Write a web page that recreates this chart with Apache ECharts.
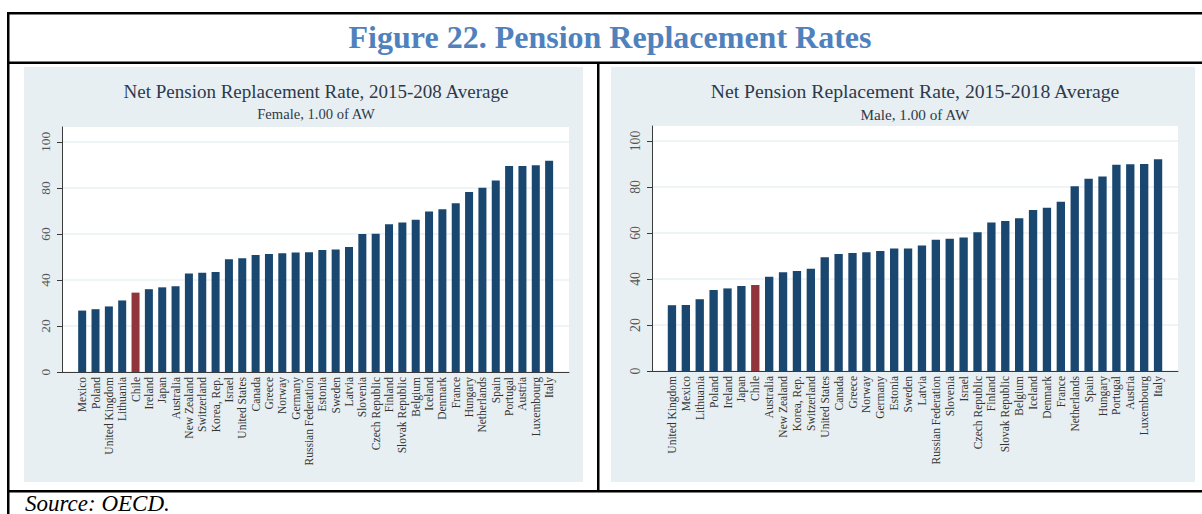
<!DOCTYPE html>
<html>
<head>
<meta charset="utf-8">
<script src="https://cdn.jsdelivr.net/npm/echarts@6/dist/echarts.min.js"></script>
<style>
html,body{margin:0;padding:0;background:#fff;}
#chart{width:1202px;height:514px;}
</style>
</head>
<body>
<div id="chart"></div>
<script>
// ---- data ----
const leftCategories = ["Mexico","Poland","United Kingdom","Lithuania","Chile","Ireland","Japan","Australia","New Zealand","Switzerland","Korea, Rep.","Israel","United States","Canada","Greece","Norway","Germany","Russian Federation","Estonia","Sweden","Latvia","Slovenia","Czech Republic","Finland","Slovak Republic","Belgium","Iceland","Denmark","France","Hungary","Netherlands","Spain","Portugal","Austria","Luxembourg","Italy"];
const leftValues = [26.7,27.3,28.5,31.1,34.5,36.0,36.8,37.3,42.8,43.1,43.5,49.0,49.4,50.9,51.3,51.6,52.0,52.1,53.0,53.3,54.3,60.0,60.1,64.2,65.0,66.2,69.8,70.8,73.4,78.2,80.1,83.2,89.5,89.6,89.9,91.8];
const rightCategories = ["United Kingdom","Mexico","Lithuania","Poland","Ireland","Japan","Chile","Australia","New Zealand","Korea, Rep.","Switzerland","United States","Canada","Greece","Norway","Germany","Estonia","Sweden","Latvia","Russian Federation","Slovenia","Israel","Czech Republic","Finland","Slovak Republic","Belgium","Iceland","Denmark","France","Netherlands","Spain","Hungary","Portugal","Austria","Luxembourg","Italy"];
const rightValues = [28.6,28.7,31.2,35.2,35.9,37.0,37.4,41.0,42.9,43.5,44.5,49.4,50.9,51.3,51.6,52.2,53.3,53.3,54.5,57.1,57.5,58.0,60.3,64.5,65.2,66.4,70.0,71.0,73.6,80.3,83.6,84.5,89.7,89.9,90.0,92.0];
const yTicks = [0,20,40,60,80,100];
const highlight = "Chile";
const figureTitle = "Figure 22. Pension Replacement Rates";
const leftTitle = "Net Pension Replacement Rate, 2015-208 Average";
const leftSubtitle = "Female, 1.00 of AW";
const rightTitle = "Net Pension Replacement Rate, 2015-2018 Average";
const rightSubtitle = "Male, 1.00 of AW";
const sourceText = "Source: OECD.";

// ---- style ----
const SERIF = '"Liberation Serif", "Times New Roman", serif';
const NAVY = '#1A476F';
const RED = '#90353B';
const PANEL = '#E8EFF2';
const GRIDLINE = '#EAF1F3';
const AXIS = '#3a3a3a';
const YMAX = 106.5;

const chart = echarts.init(document.getElementById('chart'), null, {renderer: 'svg', width: 1202, height: 514});

function outerX(gi) {
  return {type: 'value', gridIndex: gi, min: 0, max: 1,
    axisLine: {show: true, lineStyle: {color: AXIS, width: 1}},
    axisTick: {show: false}, axisLabel: {show: false}, splitLine: {show: false}};
}
function outerY(gi, fs) {
  return {type: 'value', gridIndex: gi, min: 0, max: YMAX, interval: 20,
    axisLine: {show: true, lineStyle: {color: AXIS, width: 1}},
    axisTick: {show: true, length: 5, lineStyle: {color: AXIS}, customValues: yTicks},
    axisLabel: {show: true, rotate: 90, fontSize: fs, fontFamily: SERIF, color: '#555', margin: 10,
      customValues: yTicks, formatter: v => (v % 20 === 0 ? String(v) : '')},
    splitLine: {show: true, lineStyle: {color: GRIDLINE, width: 1.5}}};
}
function innerX(gi, cats, fs) {
  return {type: 'category', gridIndex: gi, data: cats,
    axisLine: {show: false}, axisTick: {show: false},
    axisLabel: {interval: 0, rotate: 90, fontSize: fs, fontFamily: SERIF, color: '#333', margin: 5}};
}
function innerY(gi) {
  return {type: 'value', gridIndex: gi, min: 0, max: YMAX, show: false};
}
function barData(cats, vals) {
  return vals.map((v, i) => ({value: v, itemStyle: {color: cats[i] === highlight ? RED : NAVY}}));
}
function txt(x, y, text, size, opts) {
  return Object.assign({type: 'text', x: x, y: y, silent: true,
    style: Object.assign({text: text, fontSize: size, fontFamily: SERIF, fill: '#2d3a4b', align: 'center', verticalAlign: 'middle'}, opts || {})});
}
function rect(x, y, w, h, fill, z) {
  return {type: 'rect', z: z, silent: true, shape: {x: x, y: y, width: w, height: h}, style: {fill: fill}};
}

const option = {
  backgroundColor: '#ffffff',
  animation: false,
  grid: [
    {left: 62, top: 127, width: 507, height: 245, show: true, backgroundColor: '#ffffff', borderWidth: 0},
    {left: 75.5, top: 127, width: 480.3, height: 245},
    {left: 652, top: 126, width: 526, height: 245, show: true, backgroundColor: '#ffffff', borderWidth: 0},
    {left: 665, top: 126, width: 500, height: 245}
  ],
  xAxis: [outerX(0), innerX(1, leftCategories, 11.5), outerX(2), innerX(3, rightCategories, 11.5)],
  yAxis: [outerY(0, 13.5), innerY(1), outerY(2, 13.8), innerY(3)],
  series: [
    {type: 'bar', xAxisIndex: 1, yAxisIndex: 1, barWidth: '60%', data: barData(leftCategories, leftValues)},
    {type: 'bar', xAxisIndex: 3, yAxisIndex: 3, barWidth: '60%', data: barData(rightCategories, rightValues)}
  ],
  graphic: {elements: [
    rect(24, 67, 559, 415, PANEL, -20),
    rect(611, 67, 584, 415, PANEL, -20),
    rect(7, 12, 2.5, 502, '#000', 10),
    rect(7, 12, 1195, 2.5, '#000', 10),
    rect(7, 61.5, 1195, 2.5, '#000', 10),
    rect(597, 62, 2.5, 430, '#000', 10),
    rect(7, 490, 1195, 2.5, '#000', 10),
    txt(610, 37, figureTitle, 32, {fontWeight: 'bold', fill: '#4F81BD'}),
    txt(316, 91, leftTitle, 19),
    txt(316, 114, leftSubtitle, 14.6),
    txt(915, 91, rightTitle, 19.7),
    txt(915, 114, rightSubtitle, 15.2),
    txt(25, 503, sourceText, 23, {fontStyle: 'italic', fill: '#000', align: 'left'})
  ]}
};
chart.setOption(option);
</script>
</body>
</html>
